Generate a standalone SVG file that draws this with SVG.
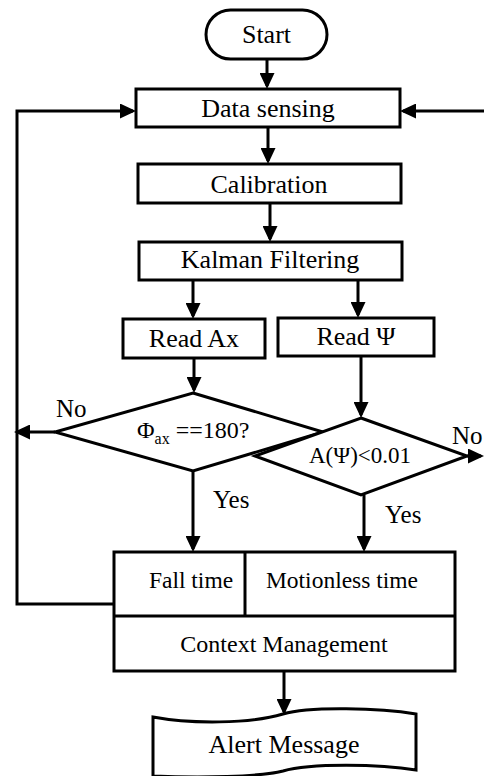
<svg xmlns="http://www.w3.org/2000/svg" width="484" height="776" viewBox="0 0 484 776" font-family="'Liberation Serif', 'DejaVu Serif', serif">
<style>
.s{fill:#fff;stroke:#000;stroke-width:3;stroke-linejoin:miter}
.c{fill:none;stroke:#000;stroke-width:3}
text{font-family:'Liberation Serif','DejaVu Serif',serif;fill:#000}
.t{font-size:26px;text-anchor:middle}
.l{font-size:25px}
.m{font-size:23.5px}
</style>
<defs>
<marker id="ah" markerUnits="userSpaceOnUse" markerWidth="16" markerHeight="15" refX="13" refY="7.5" orient="auto">
<path d="M0,0 L16,7.5 L0,15 Z" fill="#000"/>
</marker>
</defs>
<rect width="484" height="776" fill="#fff"/>
<g id="connectors">
<line class="c" x1="267" y1="59" x2="267" y2="86" marker-end="url(#ah)"/>
<line class="c" x1="268" y1="127" x2="268" y2="161" marker-end="url(#ah)"/>
<line class="c" x1="270" y1="203" x2="270" y2="239" marker-end="url(#ah)"/>
<line class="c" x1="193" y1="280" x2="193" y2="316" marker-end="url(#ah)"/>
<line class="c" x1="358" y1="280" x2="358" y2="315" marker-end="url(#ah)"/>
<line class="c" x1="194" y1="358" x2="194" y2="390" marker-end="url(#ah)"/>
<line class="c" x1="361" y1="356" x2="361" y2="415" marker-end="url(#ah)"/>
<line class="c" x1="55" y1="432" x2="17" y2="432" marker-end="url(#ah)"/>
<line class="c" x1="467" y1="456" x2="481" y2="456" marker-end="url(#ah)"/>
<line class="c" x1="193" y1="471" x2="193" y2="549" marker-end="url(#ah)"/>
<line class="c" x1="364" y1="495" x2="364" y2="549" marker-end="url(#ah)"/>
<polyline class="c" points="114,604 17,604 17,111 133,111" marker-end="url(#ah)"/>
<line class="c" x1="484" y1="111" x2="403" y2="111" marker-end="url(#ah)"/>
<line class="c" x1="284" y1="671" x2="284" y2="712" marker-end="url(#ah)"/>
<text class="l" x="56" y="417">No</text>
<text class="l" x="452" y="444">No</text>
<text class="l" x="213" y="508">Yes</text>
<text class="l" x="385" y="523">Yes</text>
</g>
<g id="start">
<rect class="s" x="206" y="10" width="121" height="49" rx="24.5"/>
<text class="t" x="266.5" y="43">Start</text>
</g>
<g id="data-sensing">
<rect class="s" x="136" y="89" width="264" height="38"/>
<text class="t" x="268" y="117">Data sensing</text>
</g>
<g id="calibration">
<rect class="s" x="138" y="164" width="263" height="39"/>
<text class="t" x="269" y="193">Calibration</text>
</g>
<g id="kalman">
<rect class="s" x="139" y="242" width="263" height="38"/>
<text class="t" x="270" y="268">Kalman Filtering</text>
</g>
<g id="read-ax">
<rect class="s" x="123" y="319" width="142" height="39"/>
<text class="t" x="194" y="347">Read Ax</text>
</g>
<g id="read-psi">
<rect class="s" x="278" y="318" width="156" height="38"/>
<text class="t" x="356" y="345">Read Ψ</text>
</g>
<g id="decision-phi">
<polygon class="s" points="193,393 323,432 193,471 55,432"/>
<text x="137" y="438" font-size="24"><tspan>Φ</tspan><tspan font-size="16" dy="6">ax</tspan><tspan dy="-6"> ==180?</tspan></text>
</g>
<g id="decision-psi">
<polygon class="s" points="361,418 467,456 361,495 255,456"/>
<text class="t" x="360" y="463" style="font-size:23px">A(Ψ)&lt;0.01</text>
</g>
<g id="context">
<rect class="s" x="114" y="552" width="341" height="119"/>
<line class="c" x1="114" y1="616" x2="455" y2="616"/>
<line class="c" x1="245" y1="552" x2="245" y2="616"/>
<text class="t m" x="191" y="588">Fall time</text>
<text class="t m" x="342" y="588">Motionless time</text>
<text class="t" x="284" y="652" style="font-size:24px">Context Management</text>
</g>
<g id="alert">
<path class="s" d="M153,717 C190,724 250,724 283,714 C310,706 380,708 416,714 L416,770 C380,764 310,763 283,771 C260,777 200,778 153,776 Z"/>
<text class="t" x="284" y="753">Alert Message</text>
</g>
</svg>
